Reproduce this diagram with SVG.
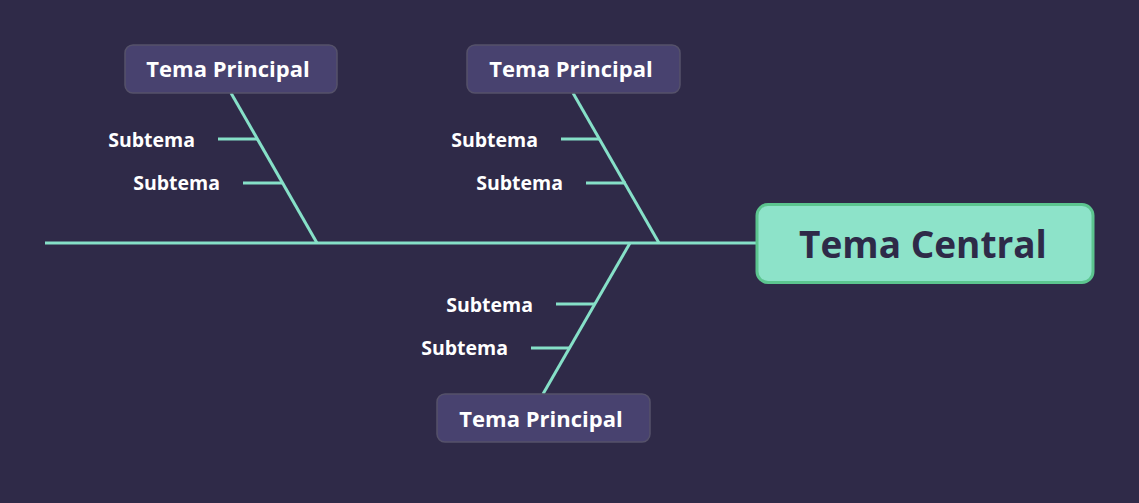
<svg xmlns="http://www.w3.org/2000/svg" width="1139" height="503" viewBox="0 0 1139 503">
<style>
.bg{fill:#2f2a48}
.line{stroke:#86e0c8;stroke-width:3;fill:none;stroke-linecap:butt}
.main{fill:#48426f;stroke:#55516a;stroke-width:1.5}
.mainT{font-family:"Open Sans","Liberation Sans",sans-serif;font-weight:bold;font-size:22px;fill:#ffffff;text-anchor:middle}
.sub{font-family:"Open Sans","Liberation Sans",sans-serif;font-weight:bold;font-size:19.5px;fill:#ffffff;text-anchor:end}
.center{fill:#8de3c9;stroke:#5cc58f;stroke-width:3}
.centerT{font-family:"Open Sans","Liberation Sans",sans-serif;font-weight:bold;font-size:37px;fill:#2e2a48;text-anchor:middle}
</style>
<rect class="bg" x="0" y="0" width="1139" height="503"/>
<g id="connectors">
<line class="line" x1="45" y1="243" x2="757" y2="243"/>
<line class="line" x1="231" y1="93" x2="317" y2="243"/>
<line class="line" x1="218" y1="139" x2="258" y2="139"/>
<line class="line" x1="243" y1="183" x2="283" y2="183"/>
<line class="line" x1="573" y1="93" x2="659" y2="243"/>
<line class="line" x1="561" y1="139" x2="600" y2="139"/>
<line class="line" x1="586" y1="183" x2="626" y2="183"/>
<line class="line" x1="630" y1="243" x2="543" y2="394"/>
<line class="line" x1="556" y1="304" x2="595" y2="304"/>
<line class="line" x1="531" y1="348" x2="570" y2="348"/>
</g>
<g id="central">
<rect class="center" x="757" y="204.5" width="336" height="78" rx="11"/>
<text class="centerT" x="923" y="258">Tema Central</text>
</g>
<g id="main1">
<rect class="main" x="125" y="45" width="212" height="48" rx="8"/>
<text class="mainT" x="228" y="77">Tema Principal</text>
</g>
<g id="main2">
<rect class="main" x="467" y="45" width="213" height="48" rx="8"/>
<text class="mainT" x="571" y="77">Tema Principal</text>
</g>
<g id="main3">
<rect class="main" x="437" y="394" width="213" height="48" rx="8"/>
<text class="mainT" x="541" y="427">Tema Principal</text>
</g>
<g id="sub1"><text class="sub" x="195" y="147">Subtema</text></g>
<g id="sub2"><text class="sub" x="220" y="190">Subtema</text></g>
<g id="sub3"><text class="sub" x="538" y="147">Subtema</text></g>
<g id="sub4"><text class="sub" x="563" y="190">Subtema</text></g>
<g id="sub5"><text class="sub" x="533" y="312">Subtema</text></g>
<g id="sub6"><text class="sub" x="508" y="355">Subtema</text></g>
</svg>
